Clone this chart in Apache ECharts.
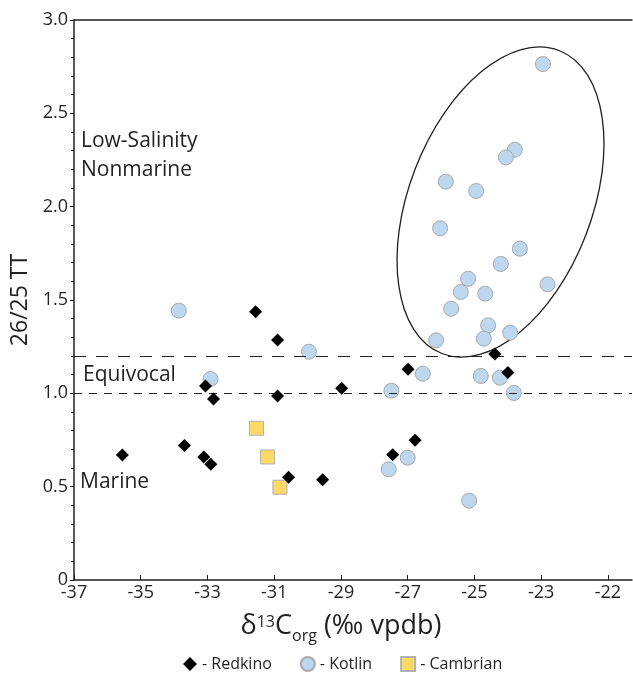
<!DOCTYPE html>
<html><head><meta charset="utf-8">
<script src="https://cdn.jsdelivr.net/npm/echarts@6/dist/echarts.min.js"></script>
<style>html,body{margin:0;padding:0;background:#fff}#c{width:633px;height:673px}</style>
</head><body><div id="c"></div>
<script>
// ---- data ----
const redkinoX = [-31.56,-30.90,-33.06,-32.82,-30.90,-28.98,-35.55,-33.69,-33.11,-32.90,-30.57,-29.55,-26.99,-24.39,-24.00,-26.78,-27.45];
const redkinoY = [1.437,1.286,1.039,0.970,0.986,1.027,0.670,0.720,0.659,0.620,0.550,0.537,1.129,1.211,1.111,0.748,0.671];
const kotlinX = [-22.95,-23.79,-24.06,-25.86,-24.95,-26.03,-23.64,-24.21,-25.19,-25.41,-24.68,-22.81,-25.70,-24.59,-26.15,-24.72,-23.93,-26.55,-24.81,-24.24,-23.82,-27.49,-27.00,-27.57,-25.16,-33.86,-29.96,-32.91];
const kotlinY = [2.764,2.305,2.264,2.134,2.084,1.884,1.775,1.693,1.614,1.543,1.534,1.584,1.453,1.364,1.284,1.293,1.325,1.105,1.093,1.084,1.002,1.014,0.655,0.593,0.425,1.443,1.223,1.077];
const cambrianX = [-31.53,-31.20,-30.83];
const cambrianY = [0.813,0.659,0.497];
const seriesNames = ['Redkino','Kotlin','Cambrian'];
const xTickValues = [-37,-35,-33,-31,-29,-27,-25,-23,-21];
const xTickLabels = ['-37','-35','-33','-31','-29','-27','-25','-23','-22'];
const yTickValues = [0,0.5,1,1.5,2,2.5,3];
const yTickLabels = ['0','0.5','1.0','1.5','2.0','2.5','3.0'];
const thresholds = [1.2, 1.0];
const zoneLabels = ['Low-Salinity','Nonmarine','Equivocal','Marine'];
const ellipseCenter = [-24.22, 2.025];

const pair = (xs, ys) => xs.map((x, i) => [x, ys[i]]);
const FONT = '"Open Sans", sans-serif';
const INK = '#231f20';

const chart = echarts.init(document.getElementById('c'));
const option = {
  animation: false,
  backgroundColor: '#fff',
  textStyle: { fontFamily: FONT, color: INK },
  grid: { left: 74, right: 1, top: 20, bottom: 93 },
  xAxis: [{
    type: 'value', min: -37, max: -20.28, position: 'bottom',
    axisLine: { onZero: false, lineStyle: { color: INK, width: 1.5 } },
    axisTick: { inside: true, length: 5, customValues: xTickValues, lineStyle: { color: INK } },
    axisLabel: { customValues: xTickValues, fontSize: 18, color: INK, margin: 4, fontFamily: FONT,
      formatter: v => { const i = xTickValues.findIndex(t => Math.abs(t - v) < 1e-6); return i >= 0 ? xTickLabels[i] : ''; } },
    splitLine: { show: false },
    name: '{a|δ}{sup|13}{a|C}{sub|org}{a| (‰ vpdb)}',
    nameLocation: 'middle', nameGap: 14,
    nameTextStyle: {
      color: INK, fontFamily: FONT, padding: [0, 24, 0, 0],
      rich: {
        a: { fontSize: 27, lineHeight: 38, fontFamily: FONT, color: INK, verticalAlign: 'middle' },
        sup: { fontSize: 16, lineHeight: 16, fontFamily: FONT, color: INK, verticalAlign: 'top', padding: [8, 0, 0, 0] },
        sub: { fontSize: 16, lineHeight: 16, fontFamily: FONT, color: INK, verticalAlign: 'bottom' }
      }
    }
  }, {
    type: 'value', min: -37, max: -20.28, position: 'top',
    axisLine: { onZero: false, lineStyle: { color: INK, width: 1.5 } },
    axisTick: { show: false }, axisLabel: { show: false }, splitLine: { show: false }
  }],
  yAxis: {
    type: 'value', min: 0, max: 3, interval: 0.5,
    axisLine: { show: true, onZero: false, lineStyle: { color: INK, width: 1.5 } },
    axisTick: { show: true, length: 4, lineStyle: { color: INK } },
    minorTick: { show: true, splitNumber: 5, length: 3, lineStyle: { color: INK } },
    axisLabel: { fontSize: 18, color: INK, margin: 6, fontFamily: FONT,
      formatter: v => { const i = yTickValues.findIndex(t => Math.abs(t - v) < 1e-6); return i >= 0 ? yTickLabels[i] : ''; } },
    splitLine: { show: false },
    name: '26/25 TT', nameLocation: 'middle', nameGap: 40,
    nameTextStyle: { fontSize: 23, color: INK, fontFamily: FONT }
  },
  legend: {
    top: 651, left: 178, itemGap: 28, itemWidth: 14, itemHeight: 14,
    data: seriesNames,
    formatter: n => '- ' + n,
    textStyle: { fontSize: 16, color: INK, fontFamily: FONT }
  },
  series: [{
    name: 'Kotlin', type: 'scatter', symbol: 'circle', symbolSize: 15,
    itemStyle: { color: '#bdd7ee', borderColor: '#a8a8a8', borderWidth: 1, opacity: 1 },
    data: pair(kotlinX, kotlinY), z: 3,
    markLine: {
      silent: true, symbol: 'none', label: { show: false },
      lineStyle: { color: INK, width: 1 },
      data: [
        { yAxis: thresholds[0], lineStyle: { type: [12, 10], color: INK, width: 1 } },
        { yAxis: thresholds[1], lineStyle: { type: [8, 7], color: INK, width: 1 } }
      ]
    }
  }, {
    name: 'Cambrian', type: 'scatter', symbol: 'rect', symbolSize: 14,
    itemStyle: { color: '#ffd966', borderColor: '#b0b0b0', borderWidth: 1, opacity: 1 },
    data: pair(cambrianX, cambrianY), z: 4
  }, {
    name: 'Redkino', type: 'scatter', symbol: 'diamond', symbolSize: 13,
    itemStyle: { color: '#000', opacity: 1 },
    data: pair(redkinoX, redkinoY), z: 5
  }]
};
chart.setOption(option);

const c = chart.convertToPixel({ gridIndex: 0 }, ellipseCenter);
const txt = (t, x, y) => ({ type: 'text', x: x, y: y, style: { text: t, fontSize: 21, fontFamily: FONT, fill: INK, verticalAlign: 'middle', align: 'left' }, z: 10 });
chart.setOption({
  graphic: [
    { type: 'ellipse', x: c[0], y: c[1], rotation: -21.1 * Math.PI / 180,
      shape: { cx: 0, cy: 0, rx: 91.5, ry: 162.4 },
      style: { fill: 'none', stroke: INK, lineWidth: 1.3 }, z: 1 },
    txt(zoneLabels[0], 81, 141),
    txt(zoneLabels[1], 81, 170),
    txt(zoneLabels[2], 83, 375),
    txt(zoneLabels[3], 80, 482)
  ]
});
</script></body></html>
